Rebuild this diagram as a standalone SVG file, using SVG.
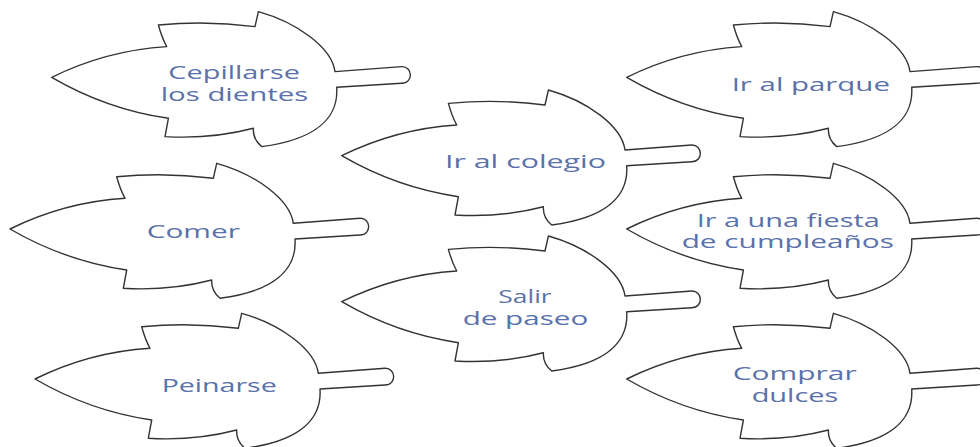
<svg xmlns="http://www.w3.org/2000/svg" xmlns:xlink="http://www.w3.org/1999/xlink" width="980" height="447" viewBox="0 0 980 447">
<style>
.leaf{fill:#ffffff;stroke:#333333;stroke-width:1.4;stroke-linejoin:round}
.lbl{font-family:"Open Sans","DejaVu Sans",sans-serif;font-size:18px;fill:#5a71aa;text-anchor:middle}
</style>
<defs>
<path id="leaf" class="leaf" d="M0,0 Q55,-27 115,-30.7 Q110,-40 106.7,-52.3 Q155,-57 203.3,-50.7 L206.7,-65.7 C245,-55 280,-30 283.3,-5.7 L350,-10.7 C361,-11 362,6 350,6 L285,10 C287,40 265,62 210,69.3 Q201,62 201.7,51 Q160,62 113.3,59.3 L116.7,41 Q55,32 0,0 Z"/>
</defs>
<g id="connectors"></g>
<g id="n1"><use href="#leaf" x="51.7" y="77.3"/>
<text class="lbl" x="234.2" y="78.5" textLength="131.7" lengthAdjust="spacingAndGlyphs">Cepillarse</text>
<text class="lbl" x="234.5" y="101" textLength="147.7" lengthAdjust="spacingAndGlyphs">los dientes</text></g>
<g id="n2"><use href="#leaf" x="341.7" y="155.7"/>
<text class="lbl" x="525.5" y="168.3" textLength="161" lengthAdjust="spacingAndGlyphs">Ir al colegio</text></g>
<g id="n3"><use href="#leaf" x="626.7" y="77.3"/>
<text class="lbl" x="810.8" y="90.7" textLength="158.3" lengthAdjust="spacingAndGlyphs">Ir al parque</text></g>
<g id="n4"><use href="#leaf" x="10" y="229"/>
<text class="lbl" x="193.3" y="238.3" textLength="93.3" lengthAdjust="spacingAndGlyphs">Comer</text></g>
<g id="n5"><use href="#leaf" x="35" y="379"/>
<text class="lbl" x="219.2" y="391.7" textLength="115" lengthAdjust="spacingAndGlyphs">Peinarse</text></g>
<g id="n6"><use href="#leaf" x="626.7" y="379"/>
<text class="lbl" x="794.7" y="380" textLength="124" lengthAdjust="spacingAndGlyphs">Comprar</text>
<text class="lbl" x="795" y="401.7" textLength="86.7" lengthAdjust="spacingAndGlyphs">dulces</text></g>
<g id="n7"><use href="#leaf" x="626.7" y="229"/>
<text class="lbl" x="788.3" y="226.7" textLength="183.3" lengthAdjust="spacingAndGlyphs">Ir a una fiesta</text>
<text class="lbl" x="787.8" y="248.3" textLength="212.3" lengthAdjust="spacingAndGlyphs">de cumpleaños</text></g>
<g id="n8"><use href="#leaf" x="341.7" y="301.7"/>
<text class="lbl" x="525" y="302.7" textLength="53.3" lengthAdjust="spacingAndGlyphs">Salir</text>
<text class="lbl" x="525.5" y="325" textLength="125.7" lengthAdjust="spacingAndGlyphs">de paseo</text></g>
</svg>
